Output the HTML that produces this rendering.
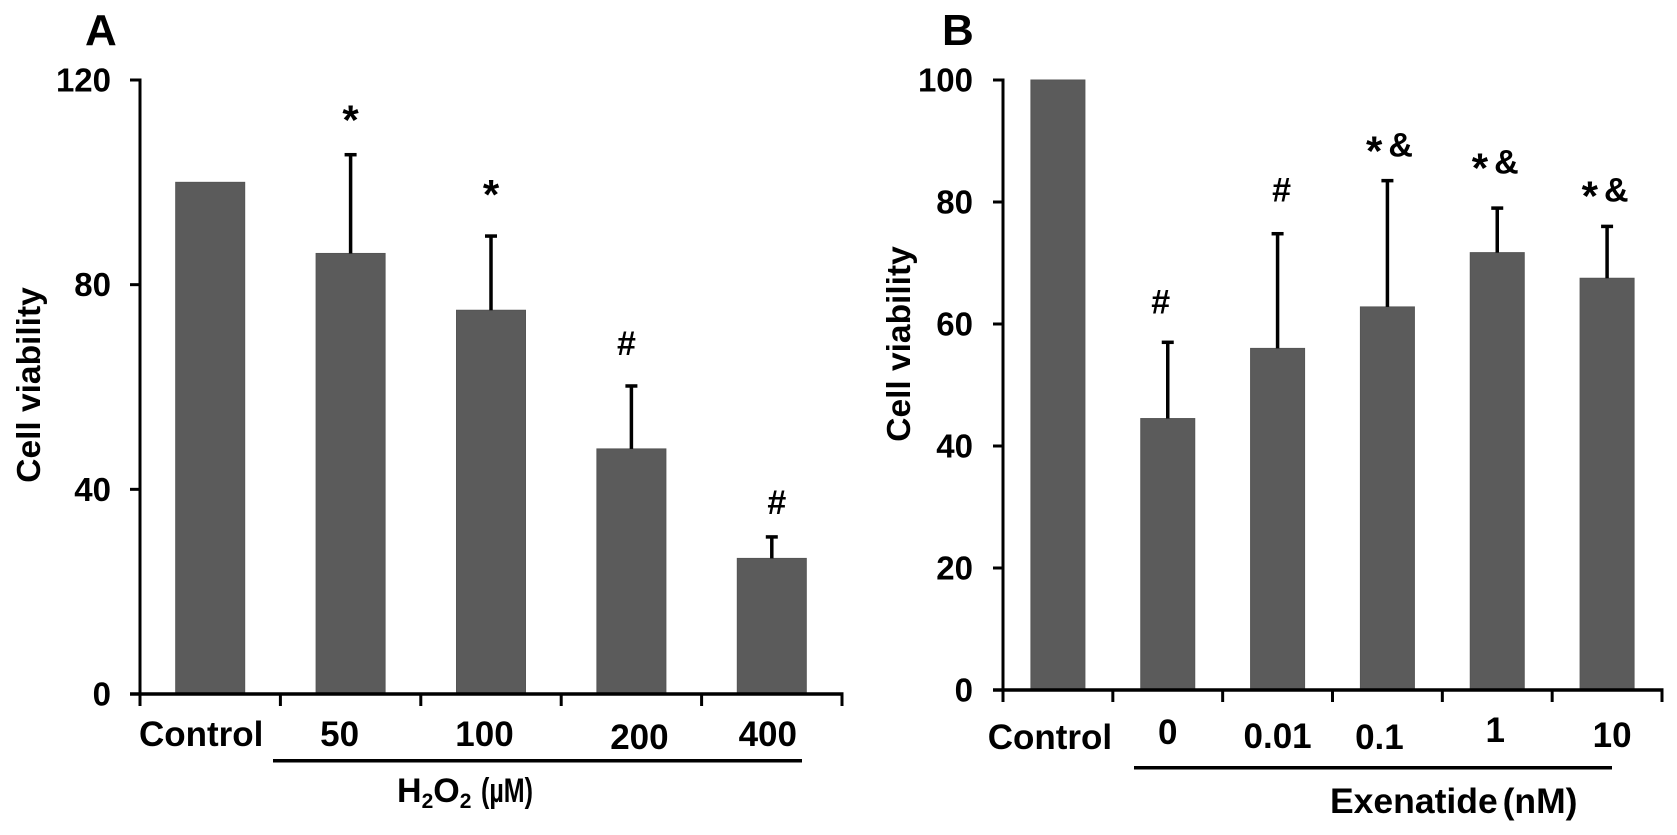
<!DOCTYPE html>
<html lang="en">
<head>
<meta charset="utf-8">
<title>Cell viability charts</title>
<style>
html,body{margin:0;padding:0;background:#fff;width:1677px;height:835px;overflow:hidden}
svg{display:block}
text{font-family:"Liberation Sans",Arial,sans-serif;font-weight:bold;fill:#000}
</style>
</head>
<body>
<svg id="fig" width="1677" height="835" viewBox="0 0 1677 835" xmlns="http://www.w3.org/2000/svg">
  <text x="85" y="45" font-size="44">A</text>
  <text x="942" y="45" font-size="44">B</text>
  <text transform="translate(40,385) rotate(-90)" text-anchor="middle" font-size="33.5">Cell viability</text>
  <text transform="translate(910,344) rotate(-90)" text-anchor="middle" font-size="33.5">Cell viability</text>
  <rect x="273" y="759" width="529" height="3.5" fill="#000"/>
  <rect x="1134" y="766" width="478" height="3.5" fill="#000"/>
  <text x="397" y="802" font-size="34">H<tspan font-size="21" dy="6">2</tspan><tspan dy="-6">O</tspan><tspan font-size="21" dy="6">2</tspan></text>
  <text x="481" y="802" font-size="34" textLength="52" lengthAdjust="spacingAndGlyphs">(µM)</text>
  <text x="1330" y="813" font-size="35.5" word-spacing="-5">Exenatide (nM)</text>
</svg>
<script>
// Panel A data
const categoriesA = ['Control', '50', '100', '200', '400'];
const valuesA = [100, 86.1, 75, 47.9, 26.5];
const errorTopsA = [null, 105.4, 89.5, 60.2, 30.7];
const marksA = ['', '*', '*', '#', '#'];
const markHeightsA = [null, 113.3, 98.7, 68.4, 37.3];
const yTicksA = [0, 40, 80, 120];

// Panel B data
const categoriesB = ['Control', '0', '0.01', '0.1', '1', '10'];
const valuesB = [100, 44.5, 56, 62.8, 71.7, 67.5];
const errorTopsB = [null, 57, 74.8, 83.5, 79, 76];
const marksB = ['', '#', '#', '* &', '* &', '* &'];
const markHeightsB = [null, 63.5, 81.9, 89.3, 86.5, 81.9];
const yTicksB = [0, 20, 40, 60, 80, 100];

// Layout only (hand-placed label nudges from the figure)
const layoutA = {name: 'panel-a', left: 140, right: 842, top: 80, bottom: 694, max: 120, barW: 69, axisStart: 130, tickGap: 29,
  labelDx: [-9, -11, -6.5, 8, -4], labelY: [746, 746, 746, 749, 746], markDx: [0, 0, 0, -5, 5]};
const layoutB = {name: 'panel-b', left: 1003, right: 1662, top: 80, bottom: 690, max: 100, barW: 54, axisStart: 993, tickGap: 30,
  labelDx: [-8, 0, 0, -8, -2, 5], labelY: [749, 744, 748, 749, 742, 747], markDx: [0, -7, 4, 2, -2, -2]};

const NS = 'http://www.w3.org/2000/svg';
const svg = document.getElementById('fig');

function make(tag, attrs, parent) {
  const el = document.createElementNS(NS, tag);
  for (const k in attrs) el.setAttribute(k, attrs[k]);
  (parent || svg).appendChild(el);
  return el;
}

function fillMark(textEl, str) {
  let shifted = 0;
  str.split(' ').forEach((tok, idx) => {
    const isStar = tok === '*';
    const want = isStar ? 9 : 0;
    const attrs = {dy: want - shifted, 'font-size': isStar ? 42 : 34};
    if (idx > 0) attrs.dx = 6;
    const t = make('tspan', attrs, textEl);
    t.textContent = tok;
    shifted = want;
  });
}

function drawPanel(cfg, categories, values, errorTops, marks, markHeights, yTicks) {
  const band = (cfg.right - cfg.left) / categories.length;
  const xCenter = i => cfg.left + band * (i + 0.5);
  const yScale = v => cfg.bottom - (v / cfg.max) * (cfg.bottom - cfg.top);

  categories.forEach((cat, i) => {
    const cx = xCenter(i);
    const barTop = yScale(values[i]);
    const bar = make('rect', {x: cx - cfg.barW / 2, y: barTop, width: cfg.barW, height: cfg.bottom - barTop, fill: '#5b5b5b', stroke: '#555', 'stroke-width': 1});
    
    

    if (errorTops[i] !== null) {
      const errTop = yScale(errorTops[i]);
      const stem = make('line', {x1: cx, x2: cx, y1: barTop, y2: errTop, stroke: '#000', 'stroke-width': 3.5});
      
      
      const cap = make('line', {x1: cx - 6, x2: cx + 6, y1: errTop, y2: errTop, stroke: '#000', 'stroke-width': 3.5});
      
      
    }

    if (marks[i]) {
      const mark = make('text', {x: cx + cfg.markDx[i], y: yScale(markHeights[i]) + 11, 'text-anchor': 'middle'});
      fillMark(mark, marks[i]);
      
      
    }

    const label = make('text', {x: cx + cfg.labelDx[i], y: cfg.labelY[i], 'text-anchor': 'middle', 'font-size': 35});
    label.textContent = cat;
    
    
  });

  const yAxis = make('line', {x1: cfg.left, x2: cfg.left, y1: cfg.top - 1.5, y2: cfg.bottom + 12, stroke: '#000', 'stroke-width': 3});
  
  
  const xAxis = make('line', {x1: cfg.axisStart, x2: cfg.right + 1.5, y1: cfg.bottom, y2: cfg.bottom, stroke: '#000', 'stroke-width': 3.5});
  
  

  yTicks.forEach(t => {
    const y = yScale(t);
    const tick = make('line', {x1: cfg.axisStart, x2: cfg.left, y1: y, y2: y, stroke: '#000', 'stroke-width': 3});
    
    
    const lab = make('text', {x: cfg.left - cfg.tickGap, y: y + 11.5, 'text-anchor': 'end', 'font-size': 33});
    lab.textContent = t;
    
    
  });

  for (let i = 0; i <= categories.length; i++) {
    const x = cfg.left + band * i;
    const tick = make('line', {x1: x, x2: x, y1: cfg.bottom, y2: cfg.bottom + 12, stroke: '#000', 'stroke-width': 3});
    
    
  }
}

drawPanel(layoutA, categoriesA, valuesA, errorTopsA, marksA, markHeightsA, yTicksA);
drawPanel(layoutB, categoriesB, valuesB, errorTopsB, marksB, markHeightsB, yTicksB);
</script>
</body>
</html>
